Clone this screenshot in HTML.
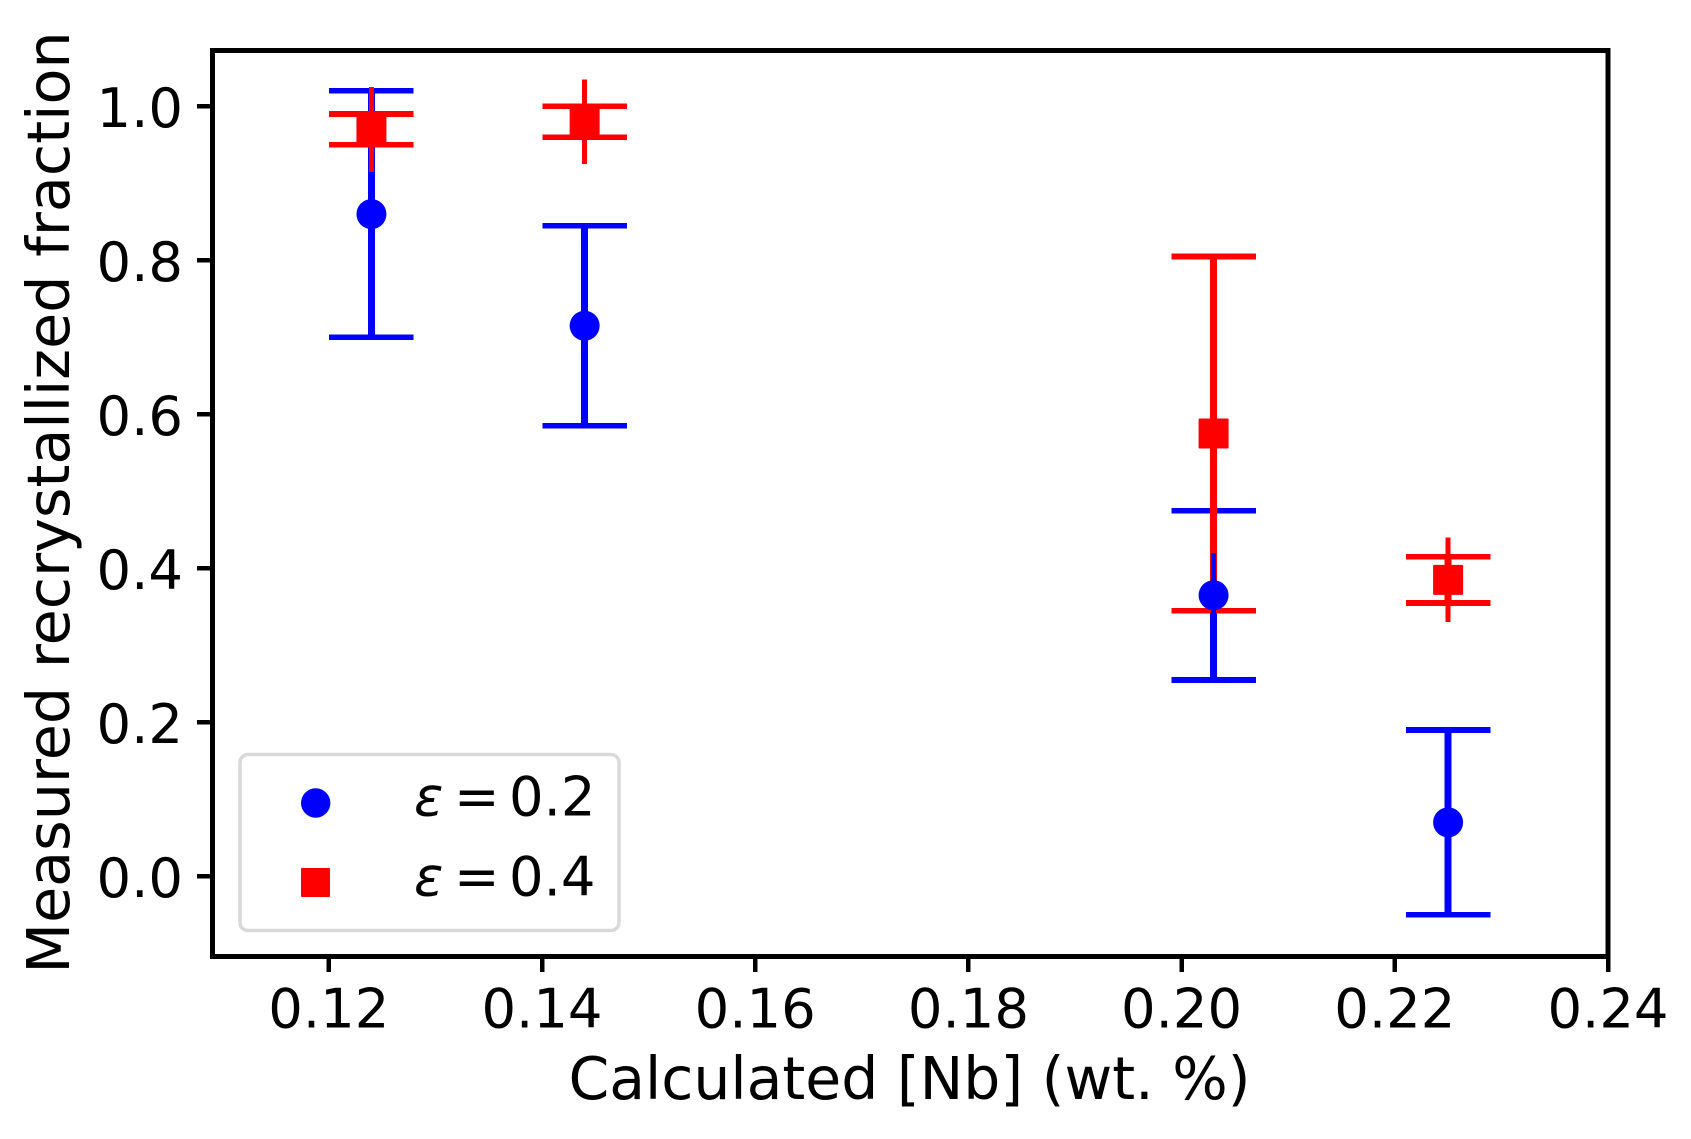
<!DOCTYPE html>
<html>
<head>
<meta charset="utf-8">
<title>Measured recrystallized fraction vs calculated Nb</title>
<style>
html,body{margin:0;padding:0;background:#fff;}
svg{display:block;}
text{font-family:"DejaVu Sans","Liberation Sans",sans-serif;fill:#000;}
line{shape-rendering:crispEdges;}
</style>
</head>
<body>
<svg id="chart" xmlns="http://www.w3.org/2000/svg" width="1691" height="1139" viewBox="0 0 1691 1139">
  <rect x="0" y="0" width="1691" height="1139" fill="#fff"/>
  <g id="marks"></g>
  <g id="ticks"></g>
  <rect x="212.5" y="50.5" width="1395.5" height="906" fill="none" stroke="#000" stroke-width="5" shape-rendering="crispEdges"/>
  <text x="909.5" y="1099" font-size="58.4" text-anchor="middle">Calculated [Nb] (wt. %)</text>
  <text transform="translate(69,502.5) rotate(-90)" font-size="58.7" text-anchor="middle">Measured recrystallized fraction</text>
  <g>
    <rect x="240" y="754.5" width="379" height="176" rx="8" ry="8" fill="#fff" stroke="#d9d9d9" stroke-width="3.5"/>
    <circle cx="315.7" cy="803" r="14.7" fill="#0000ff"/>
    <rect x="301" y="868" width="29" height="29" rx="1" fill="#ff0000"/>
    <text y="815.7" font-size="54.4"><tspan x="414" font-style="italic">ε</tspan><tspan x="454">=</tspan><tspan x="509">0.2</tspan></text>
    <text y="895.7" font-size="54.4"><tspan x="414" font-style="italic">ε</tspan><tspan x="454">=</tspan><tspan x="509">0.4</tspan></text>
  </g>
</svg>
<script>
// Chart data
const nbValues = [0.124, 0.144, 0.203, 0.225];
const blueMean = [0.86, 0.715, 0.365, 0.07];
const blueLow = [0.70, 0.585, 0.255, -0.05];
const blueHigh = [1.02, 0.845, 0.475, 0.19];
const blueInnerErr = [0.055, 0.055, 0.055, 0.055];
const redMean = [0.97, 0.98, 0.575, 0.385];
const redLow = [0.95, 0.96, 0.345, 0.355];
const redHigh = [0.99, 1.0, 0.805, 0.415];
const redInnerErr = [0.055, 0.055, 0.055, 0.055];
const xTickValues = [0.12, 0.14, 0.16, 0.18, 0.20, 0.22, 0.24];
const xTickLabels = ['0.12', '0.14', '0.16', '0.18', '0.20', '0.22', '0.24'];
const yTickValues = [0.0, 0.2, 0.4, 0.6, 0.8, 1.0];
const yTickLabels = ['0.0', '0.2', '0.4', '0.6', '0.8', '1.0'];

function xScale(v) { return 328.8 + (v - 0.12) * 10660; }
function yScale(v) { return 876.3 - 770 * v; }

const NS = 'http://www.w3.org/2000/svg';
const marks = document.getElementById('marks');
const ticks = document.getElementById('ticks');

function line(parent, name, x1, y1, x2, y2, color, width) {
  const el = document.createElementNS(NS, 'line');
  
  
  el.setAttribute('x1', x1);
  el.setAttribute('y1', y1);
  el.setAttribute('x2', x2);
  el.setAttribute('y2', y2);
  el.setAttribute('stroke', color);
  el.setAttribute('stroke-width', width);
  parent.appendChild(el);
}

function drawRange(prefix, color, low, high) {
  nbValues.forEach(function (nb, i) {
    const x = xScale(nb);
    const yLow = yScale(low[i]);
    const yHigh = yScale(high[i]);
    line(marks, prefix + '-error-bar-' + i, x, yLow, x, yHigh, color, 7);
    line(marks, prefix + '-lower-cap-' + i, x - 42.3, yLow, x + 42.3, yLow, color, 5.6);
    line(marks, prefix + '-upper-cap-' + i, x - 42.3, yHigh, x + 42.3, yHigh, color, 5.6);
  });
}

function drawInner(prefix, color, mean, err, square) {
  nbValues.forEach(function (nb, i) {
    const x = xScale(nb);
    const y = yScale(mean[i]);
    line(marks, prefix + '-inner-error-' + i, x, yScale(mean[i] - err[i]), x, yScale(mean[i] + err[i]), color, 5);
    let m;
    if (square) {
      m = document.createElementNS(NS, 'rect');
      m.setAttribute('x', x - 15);
      m.setAttribute('y', y - 15);
      m.setAttribute('width', 30);
      m.setAttribute('height', 30);
      m.setAttribute('rx', 1);
    } else {
      m = document.createElementNS(NS, 'circle');
      m.setAttribute('cx', x);
      m.setAttribute('cy', y);
      m.setAttribute('r', 15);
    }
    
    
    m.setAttribute('fill', color);
    marks.appendChild(m);
  });
}

drawRange('strain-0-2', '#0000ff', blueLow, blueHigh);
drawRange('strain-0-4', '#ff0000', redLow, redHigh);
drawInner('strain-0-2', '#0000ff', blueMean, blueInnerErr, false);
drawInner('strain-0-4', '#ff0000', redMean, redInnerErr, true);

function tickText(name, x, y, anchor, label) {
  const t = document.createElementNS(NS, 'text');
  
  
  t.setAttribute('x', x);
  t.setAttribute('y', y);
  t.setAttribute('font-size', '54.4');
  t.setAttribute('text-anchor', anchor);
  t.textContent = label;
  ticks.appendChild(t);
}

xTickValues.forEach(function (v, i) {
  const x = xScale(v);
  line(ticks, 'x-tick-' + xTickLabels[i], x, 958, x, 972, '#000', 4.5);
  tickText('x-tick-label-' + xTickLabels[i], x, 1027.7, 'middle', xTickLabels[i]);
});
yTickValues.forEach(function (v, i) {
  const y = yScale(v);
  line(ticks, 'y-tick-' + yTickLabels[i], 197, y, 211, y, '#000', 4.5);
  tickText('y-tick-label-' + yTickLabels[i], 183, y + 20.5, 'end', yTickLabels[i]);
});
</script>
</body>
</html>
